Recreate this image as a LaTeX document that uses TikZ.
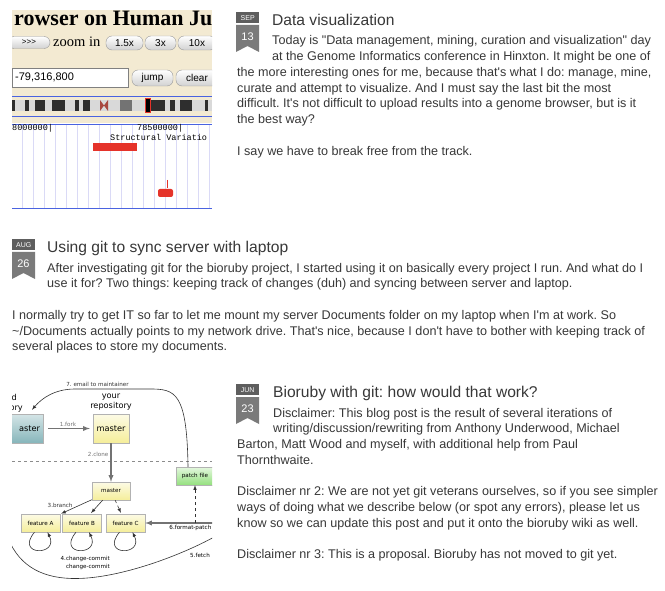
\documentclass[tikz,border=0pt]{standalone}
\usepackage{fontspec}
\setmainfont{Liberation Sans}[Ligatures=TeXOff]
\newfontfamily\browserfont{Liberation Serif}
\newfontfamily\rulerfont{Liberation Mono}
\newfontfamily\gitfont{DejaVu Sans}
\usetikzlibrary{arrows, positioning, shapes.geometric}
\frenchspacing
\definecolor{postgray}{HTML}{383838}
\definecolor{badgedark}{HTML}{5E5E5E}
\definecolor{badgelight}{HTML}{7A7A7A}
\definecolor{browserbeige}{HTML}{F3EAD2}
\definecolor{trackblue}{HTML}{4A63E0}
\definecolor{gridblue}{HTML}{DADAF6}
\definecolor{trackred}{HTML}{E5332A}
\definecolor{bandgray}{HTML}{D9D9D9}
\definecolor{centromere}{HTML}{A8473F}
\definecolor{gityellow}{HTML}{F5EE9A}
\definecolor{gitteal}{HTML}{86B5BA}
\definecolor{gitgreen}{HTML}{94E07E}

\tikzset{
  posttitle/.style={anchor=base west, inner sep=0pt, text=postgray, font=\fontsize{15.6}{18}\selectfont},
  posttext/.style={anchor=base west, inner sep=0pt, align=left, text=postgray, font=\fontsize{12.6}{15.75}\selectfont},
  monthbox/.style={anchor=north west, fill=badgedark, text=white, minimum width=23pt, minimum height=11pt, inner sep=0pt, font=\fontsize{7}{7}\selectfont},
  daytext/.style={text=white, inner sep=0pt, font=\fontsize{11}{11}\selectfont},
  button/.style={draw=black!40, rounded corners=6pt, top color=white, bottom color=black!18, inner sep=0pt, font=\fontsize{10}{10}\selectfont},
  gitbox/.style={draw=black!30, inner sep=0pt, font=\gitfont\fontsize{5.6}{6}\selectfont},
  gitbig/.style={inner sep=0pt, font=\gitfont\fontsize{8.2}{10}\selectfont},
  gitsmall/.style={inner sep=0pt, font=\gitfont\fontsize{5.6}{7.2}\selectfont},
  gitarrow/.style={-latex, black!80, line width=0.6pt},
  thickarrow/.style={-latex, black!55, line width=1.3pt}
}

\begin{document}
\begin{tikzpicture}[x=1pt, y=-1pt]
\useasboundingbox (0,0) rectangle (665,591);
\fill[white] (0,0) rectangle (665,591);

% Date badges
\foreach \bx/\by/\mth/\dd/\nm in {236/12/SEP/13/sep, 12/239/AUG/26/aug, 236/384/JUN/23/jun}{
  \node[monthbox] (\nm-month) at (\bx,\by) {\mth};
  \fill[badgelight] (\bx,\by+13) -- ++(23,0) -- ++(0,27) -- ++(-11.5,-6) -- ++(-11.5,6) -- cycle;
  \node[daytext] (\nm-day) at (\bx+11.5,\by+24.5) {\dd};
}

% Post 1: Data visualization (text nodes sit on the baseline of their last line)
\node[posttitle] (sep-title) at (272,25.5) {Data visualization};
\node[posttext] (sep-intro) at (272,60.75) {Today is "Data management, mining, curation and visualization" day\\at the Genome Informatics conference in Hinxton. It might be one of};
\node[posttext] (sep-body) at (237,155.25) {the more interesting ones for me, because that's what I do: manage, mine,\\curate and attempt to visualize. And I must say the last bit the most\\difficult. It's not difficult to upload results into a genome browser, but is it\\the best way?\\[15.75pt]I say we have to break free from the track.};

% Post 2: git sync
\node[posttitle] (aug-title) at (47,252.5) {Using git to sync server with laptop};
\node[posttext] (aug-intro) at (47,287.75) {After investigating git for the bioruby project, I started using it on basically every project I run. And what do I\\use it for? Two things: keeping track of changes (duh) and syncing between server and laptop.};
\node[posttext] (aug-body) at (12,350.75) {I normally try to get IT so far to let me mount my server Documents folder on my laptop when I'm at work. So\\\textasciitilde/Documents actually points to my network drive. That's nice, because I don't have to bother with keeping track of\\several places to store my documents.};

% Post 3: bioruby with git
\node[posttitle] (jun-title) at (273,397.5) {Bioruby with git: how would that work?};
\node[posttext] (jun-intro) at (273,432.75) {Disclaimer: This blog post is the result of several iterations of\\writing/discussion/rewriting from Anthony Underwood, Michael};
\node[posttext] (jun-body) at (237,558.75) {Barton, Matt Wood and myself, with additional help from Paul\\Thornthwaite.\\[15.75pt]Disclaimer nr 2: We are not yet git veterans ourselves, so if you see simpler\\ways of doing what we describe below (or spot any errors), please let us\\know so we can update this post and put it onto the bioruby wiki as well.\\[15.75pt]Disclaimer nr 3: This is a proposal. Bioruby has not moved to git yet.};

% Genome browser screenshot
\begin{scope}
\clip (12,0) rectangle (212,212);
\fill[browserbeige] (12,10) rectangle (212,123);
\node[anchor=base west, inner sep=0pt, font=\browserfont\bfseries\fontsize{22}{22}\selectfont] (browser-title) at (14,26) {rowser on Human Ju};
\node[button, minimum width=42pt, minimum height=12pt, font=\fontsize{8}{8}\selectfont] (btn-next) at (29,42.5) {>>>};
\node[anchor=base west, inner sep=0pt, font=\browserfont\fontsize{14.5}{14.5}\selectfont] (zoom-label) at (53,46.5) {zoom in};
\node[button, minimum width=37pt, minimum height=14pt] (btn-15) at (124.5,43) {1.5x};
\node[button, minimum width=31pt, minimum height=14pt] (btn-3) at (160.5,43) {3x};
\node[button, minimum width=38pt, minimum height=14pt] (btn-10) at (197,43) {10x};
\node[draw=black!50, fill=white, minimum width=116pt, minimum height=19pt, inner sep=2pt, anchor=west, text width=110pt, font=\fontsize{11}{11}\selectfont] (position-box) at (12,77.5) {-79,316,800};
\node[button, minimum width=41pt, minimum height=16pt] (btn-jump) at (152.5,78) {jump};
\node[button, minimum width=42pt, minimum height=16pt] (btn-clear) at (197,78) {clear};

% chromosome ideogram
\draw[trackblue, line width=0.8pt] (12,96) -- (212,96);
\fill[bandgray] (12,100) rectangle (212,111);
\foreach \a/\b in {12/15, 25/29, 35/45, 52/65, 75/79, 83/90, 150/165, 170/175, 180/192, 205/208}
  \fill[black!82] (\a,100) rectangle (\b,111);
\fill[black!55] (120,100) rectangle (132,111);
\fill[centromere] (100,100) -- (104,105.5) -- (108,100) -- (108,111) -- (104,105.5) -- (100,111) -- cycle;
\draw[trackred, fill=black] (145,98.5) rectangle (150,112.5);
\draw[trackblue, line width=0.8pt] (12,116) -- (212,116);

% track area
\foreach \gx in {22.7,33.7,...,211}
  \draw[gridblue, line width=0.5pt] (\gx,124) -- (\gx,208);
\draw[trackblue, line width=0.8pt] (12,124) -- (212,124);
\draw[trackblue, line width=0.8pt] (12,208) -- (212,208);
\node[anchor=base west, inner sep=0pt, font=\rulerfont\fontsize{8.5}{8.5}\selectfont] (ruler-left) at (12,131) {8000000|};
\node[anchor=base west, inner sep=0pt, font=\rulerfont\fontsize{8.5}{8.5}\selectfont] (ruler-right) at (137,131) {78500000|};
\node[anchor=base west, inner sep=0pt, font=\rulerfont\fontsize{8.5}{8.5}\selectfont] (track-name) at (110,141) {Structural Variatio};
\fill[trackred] (93,143) rectangle (137,151);
\fill[trackred, rounded corners=2pt] (158,189) rectangle (173,197);
\draw[trackred, line width=1pt] (167,180) -- (167,188);
\end{scope}

% Git workflow figure
\begin{scope}
\clip (12,376) rectangle (212,591);
\node[gitbox, font=\gitfont\fontsize{8.2}{10}\selectfont, top color=gitteal!35!white, bottom color=gitteal, minimum width=38pt, minimum height=29pt, align=right, text width=32pt] (upstream) at (24,428.5) {aster};
\node[gitbig, anchor=base east] (upstream-label-a) at (17,400) {d};
\node[gitbig, anchor=base east] (upstream-label-b) at (23,410) {ory};
\node[gitbox, font=\gitfont\fontsize{8.2}{10}\selectfont, top color=gityellow!25!white, bottom color=gityellow, minimum width=36pt, minimum height=29pt] (yourmaster) at (111,428.5) {master};
\node[gitbig, align=center, above=3pt of yourmaster] (your-label) {your\\repository};

\draw[black!45, dashed, line width=0.5pt] (12,461) -- (212,461);

\node[gitbox, top color=gityellow!25!white, bottom color=gityellow, minimum width=38pt, minimum height=18pt] (localmaster) at (111,491) {master};
\node[gitbox, top color=gitgreen!25!white, bottom color=gitgreen, minimum width=38pt, minimum height=18pt] (patchfile) at (195,476) {patch file};
\node[gitbox, top color=gityellow!25!white, bottom color=gityellow, minimum width=39pt, minimum height=18pt] (featA) at (40.5,523) {feature A};
\node[gitbox, top color=gityellow!25!white, bottom color=gityellow, minimum width=39pt, minimum height=18pt] (featB) at (82,523) {feature B};
\node[gitbox, top color=gityellow!25!white, bottom color=gityellow, minimum width=39pt, minimum height=18pt] (featC) at (125.5,523) {feature C};

% connections
\draw[thickarrow, shorten <=5pt, shorten >=3pt] (upstream) -- (yourmaster) node[gitsmall, midway, above=1.5pt] {1.fork};
\draw[thickarrow] (yourmaster) -- (localmaster) node[gitsmall, pos=0.3, left=2pt] {2.clone};
\draw[gitarrow, shorten >=1pt] (localmaster) -- (featA) node[gitsmall, pos=0.6, above left=0pt] {3.branch};
\draw[gitarrow, shorten >=1pt] (localmaster) -- (featB);
\draw[gitarrow, dashed, shorten >=1pt] (localmaster) -- (featC);
\foreach \f in {featA, featB, featC}
  \draw[gitarrow] ([xshift=-6pt]\f.south) .. controls +(-20,24) and +(12,24) .. ([xshift=7pt]\f.south);
\node[gitsmall, align=right, anchor=north east] (commit-label) at (110,556.5) {4.change-commit\\change-commit};

\coordinate (patch-in) at (222,523);
\coordinate (patch-split) at (195,523);
\draw[thickarrow] (patch-in) -- (featC);
\node[gitsmall, anchor=north east] (patch-label) at (211.5,525) {6.format-patch};
\draw[gitarrow, dashed] (patch-split) -- (patchfile);

\draw[gitarrow] ([xshift=-7pt]patchfile.north) .. controls (187,392) and (175,389) .. (150,389) -- node[gitsmall, pos=0.7, above=2pt] {7. email to maintainer} (75,389) .. controls (55,389) and (42,398) .. ([xshift=8pt,yshift=4pt]upstream.north);

\coordinate (fetch-in) at (216,536);
\coordinate (fetch-out) at (8,538);
\draw[black!80, line width=0.6pt] (fetch-in) .. controls (180,556) and (120,578) .. (77,578.5) .. controls (45,579) and (20,568) .. (fetch-out);
\node[gitsmall, anchor=base east] (fetch-label) at (210,557) {5.fetch};
\end{scope}

\end{tikzpicture}
\end{document}
